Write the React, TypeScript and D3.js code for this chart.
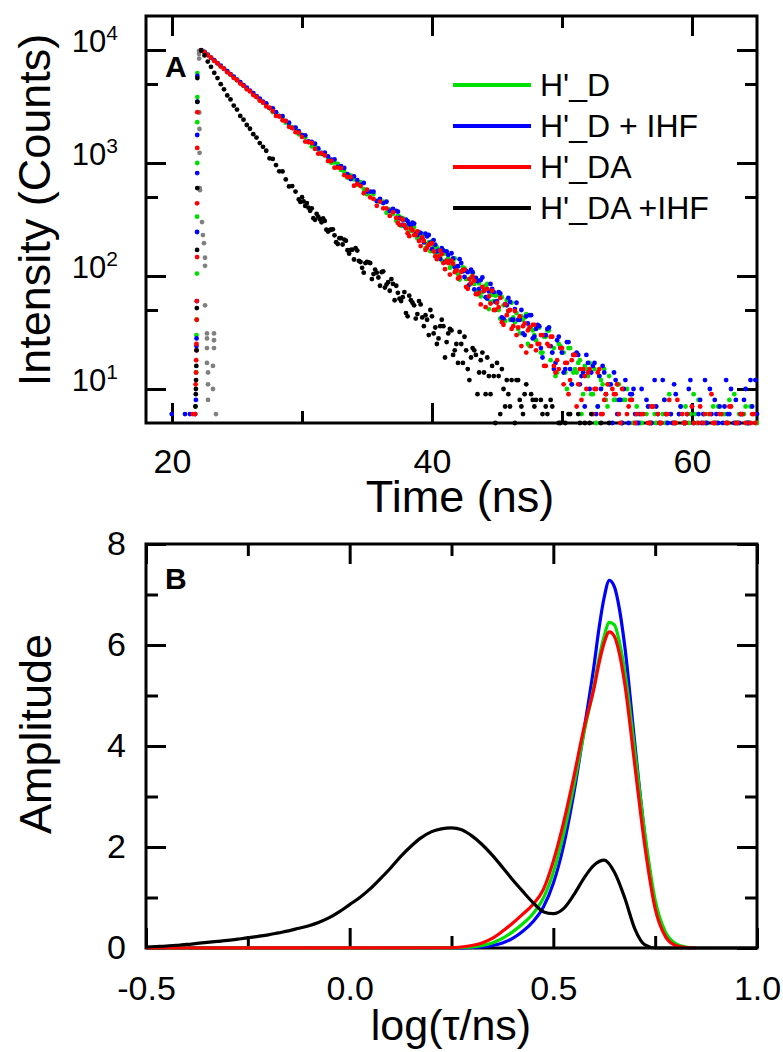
import React, { useRef, useEffect } from 'react';
import * as d3 from 'd3';

const FONT = "'Liberation Sans', Arial, Helvetica, sans-serif";

// ---------- panel A : decay curves (counts per channel) ----------
const channelStart = 22.25; // ns, first channel after the peak
const channelWidth = 0.25; // ns
// second, interleaved set of channels read off the noisy part of the curves
const tailStart = 37.375; // ns (H'_D, H'_D + IHF, H'_DA)
const tailStartDAIHF = 29.875; // ns (H'_DA + IHF)

// H'_D
const countsD = [
  9920, 9570, 9030, 8530, 8070, 7620, 7200, 6800, 6430, 6080,
  5740, 5430, 5120, 4850, 4580, 4330, 4090, 3860, 3650, 3450,
  3321, 3055, 2821, 2788, 2605, 2528, 2275, 2215, 2062, 2040,
  1793, 1773, 1687, 1527, 1401, 1427, 1322, 1201, 1217, 1110,
  1007, 1012, 982, 869, 836, 742, 775, 715, 642, 678,
  588, 529, 549, 531, 461, 452, 456, 363, 388, 355,
  309, 335, 325, 281, 251, 283, 245, 218, 229, 176,
  198, 202, 160, 162, 137, 158, 144, 123, 143, 104,
  110, 117, 81, 97, 85, 92, 66, 80, 85, 59,
  60, 68, 42, 55, 61, 41, 43, 47, 31, 41,
  46, 24, 33, 27, 35, 21, 29, 33, 21, 13,
  25, 21, 14, 23, 11, 15, 17, 6, 16, 13,
  9, 15, 7, 12, 15, 7, 4, 8, 11, 4,
  8, 10, 2, 5, 7, 5, 3, 6, 4, 7,
  5, 2, 6, 5, 9, 4, 5, 6, 3, 7,
  5, 4, 6, 8, 3, 5, 6, 4, 5, 7,
  2, 6, 5, 4, 9, 5, 3, 6, 5, 7,
  4, 5,
];
const countsD2 = [
  339, 278, 314, 277, 250, 271, 215, 234, 235, 191,
  166, 180, 180, 146, 169, 138, 118, 134, 122, 93,
  119, 94, 94, 106, 74, 86, 72, 82, 51, 68,
  67, 50, 65, 40, 49, 58, 39, 34, 44, 43,
  25, 34, 30, 36, 21, 29, 33, 18, 23, 14,
  24, 21, 10, 23, 14, 14, 18, 9, 15, 17,
  9, 5, 13, 11, 8, 13, 4, 8, 11, 5,
  8, 3, 8, 4, 6, 5, 3, 7, 5, 6,
  2, 5, 8, 4, 6, 5, 3, 7, 5, 4,
  6, 9, 5, 3, 6, 5, 4, 7, 5, 2,
  6, 5, 8, 4, 5, 6, 3, 7, 5, 4,
  6,
];

// H'_D + IHF
const countsDIHF = [
  9950, 9600, 9080, 8540, 8120, 7640, 7260, 6830, 6490, 6110,
  5810, 5460, 5200, 4890, 4650, 4370, 4160, 3900, 3720, 3490,
  3361, 3061, 3045, 2812, 2604, 2603, 2357, 2272, 2044, 2059,
  1910, 1765, 1758, 1552, 1537, 1484, 1345, 1226, 1238, 1145,
  1073, 1076, 926, 938, 903, 797, 722, 760, 704, 641,
  665, 559, 559, 557, 460, 482, 442, 454, 376, 392,
  377, 326, 285, 315, 288, 296, 235, 242, 216, 237,
  231, 173, 189, 168, 176, 133, 154, 159, 119, 122,
  130, 98, 108, 114, 76, 90, 92, 74, 63, 85,
  72, 60, 70, 42, 55, 59, 41, 58, 41, 31,
  44, 45, 28, 34, 36, 19, 30, 35, 21, 17,
  29, 21, 15, 26, 11, 20, 20, 13, 7, 17,
  14, 17, 7, 10, 14, 4, 11, 14, 6, 8,
  10, 3, 9, 10, 5, 6, 4, 8, 5, 3,
  7, 5, 12, 6, 4, 5, 9, 6, 3, 5,
  10, 7, 4, 6, 5, 12, 3, 6, 8, 5,
  4, 7, 6, 10, 5, 3, 6, 8, 5, 12,
  4, 6,
];
const countsDIHF2 = [
  371, 322, 278, 306, 279, 291, 230, 241, 199, 224,
  197, 208, 165, 142, 167, 165, 135, 143, 113, 141,
  110, 111, 84, 108, 96, 77, 97, 65, 73, 77,
  59, 72, 43, 56, 64, 41, 51, 41, 50, 30,
  38, 45, 29, 37, 23, 30, 34, 24, 15, 27,
  23, 14, 26, 15, 20, 21, 11, 14, 20, 10,
  16, 6, 13, 16, 9, 11, 5, 12, 8, 5,
  12, 5, 9, 6, 5, 10, 4, 7, 5, 12,
  6, 3, 8, 5, 6, 11, 4, 7, 5, 6,
  12, 5, 3, 8, 6, 5, 10, 4, 6, 7,
  5, 12, 6, 4, 8, 5, 6, 10, 5, 7,
  12,
];

// H'_DA
const countsDA = [
  9900, 9580, 8990, 8560, 8010, 7620, 7130, 6800, 6350, 6060,
  5660, 5400, 5050, 4820, 4490, 4300, 4000, 3830, 3560, 3420,
  3166, 3086, 2871, 2612, 2585, 2390, 2346, 2089, 2033, 1875,
  1859, 1700, 1548, 1537, 1498, 1332, 1209, 1221, 1167, 1041,
  1042, 909, 911, 901, 781, 754, 751, 629, 653, 625,
  540, 581, 496, 481, 418, 456, 397, 396, 340, 367,
  327, 283, 314, 264, 225, 254, 230, 204, 220, 170,
  188, 195, 149, 149, 156, 115, 130, 137, 108, 95,
  109, 114, 77, 86, 91, 69, 56, 74, 77, 57,
  50, 58, 64, 37, 45, 50, 36, 30, 44, 36,
  21, 35, 37, 22, 25, 30, 16, 24, 29, 14,
  15, 23, 17, 9, 18, 20, 11, 8, 13, 14,
  4, 10, 14, 6, 8, 11, 3, 9, 11, 5,
  3, 6, 8, 1, 6, 4, 6, 3, 5, 7,
  2, 5, 4, 6, 8, 3, 5, 4, 6, 5,
  2, 7, 4, 5, 3, 6, 4, 9, 5, 3,
  6, 4, 5, 7, 3, 5, 6, 4, 2, 5,
  6, 3,
];
const countsDA2 = [
  295, 321, 282, 239, 264, 230, 248, 184, 204, 178,
  192, 165, 141, 168, 130, 136, 103, 128, 112, 98,
  113, 80, 94, 99, 69, 71, 80, 53, 66, 74,
  50, 53, 39, 56, 49, 34, 49, 35, 24, 38,
  33, 24, 37, 25, 30, 16, 25, 29, 16, 18,
  23, 11, 17, 12, 20, 7, 15, 15, 10, 15,
  6, 10, 15, 6, 9, 4, 10, 9, 6, 10,
  3, 7, 8, 5, 3, 6, 4, 5, 7, 2,
  6, 5, 4, 6, 3, 5, 8, 4, 5, 6,
  2, 5, 4, 7, 5, 3, 6, 5, 4, 6,
  3, 5, 7, 4, 5, 2, 6, 5, 4, 6,
  5,
];

// H'_DA + IHF
const countsDAIHF = [
  9900, 8950, 7900, 7100, 6280, 5650, 4990, 4490, 3960, 3650,
  3220, 2970, 2610, 2420, 2170, 2010, 1800, 1680, 1500, 1390,
  1284, 1101, 1086, 958, 844, 842, 716, 620, 625, 559,
  476, 498, 417, 402, 397, 314, 335, 299, 307, 247,
  258, 229, 192, 216, 210, 169, 170, 140, 168, 133,
  107, 133, 130, 104, 107, 82, 110, 84, 74, 85,
  82, 63, 65, 47, 67, 58, 42, 60, 43, 45,
  30, 44, 35, 28, 41, 19, 31, 33, 22, 17,
  25, 29, 15, 19, 22, 9, 18, 14, 19, 9,
  13, 17, 6, 10, 12, 7, 4, 12, 8, 6,
  11, 3, 8, 8, 1, 6, 7, 3, 7, 1,
  5, 3, 5, 6, 4, 2, 6, 3, 5, 4,
  6, 2, 3, 5, 4, 2, 3, 1,
];
const countsDAIHF2 = [
  452, 457, 442, 377, 325, 355, 318, 324, 257, 254,
  259, 199, 216, 190, 205, 158, 171, 176, 136, 118,
  130, 132, 94, 114, 97, 108, 79, 88, 94, 61,
  71, 60, 72, 44, 61, 55, 46, 56, 36, 41,
  50, 31, 25, 36, 36, 26, 34, 20, 25, 32,
  17, 22, 12, 23, 20, 14, 21, 9, 13, 16,
  5, 13, 15, 7, 9, 12, 5, 12, 7, 9,
  3, 9, 7, 4, 8, 2, 6, 8, 2, 4,
  5, 2, 3, 6, 1, 4, 5, 2, 3, 5,
  1, 2, 4, 3, 1, 5, 2,
];

// points on the rising edge, [time (ns), counts]
const riseD = [[21.95, 6250], [21.95, 3830], [21.94, 2300], [21.94, 1000], [21.93, 335], [21.92, 105], [21.9, 41], [21.88, 30], [21.86, 14], [21.82, 7]];
const riseDIHF = [[21.95, 5900], [21.95, 3500], [21.94, 1770], [21.94, 815], [21.93, 245], [21.91, 60], [21.89, 28], [21.88, 24], [21.84, 8], [21.78, 6], [21.38, 6], [21.0, 6], [19.98, 6]];
const riseDA = [[21.95, 2820], [21.94, 1360], [21.93, 440], [21.93, 147], [21.91, 60], [21.9, 41], [21.88, 25], [21.88, 22], [21.86, 18], [21.85, 14], [21.82, 11], [21.78, 6], [21.6, 6]];
const riseDAIHF = [[21.95, 5650], [21.95, 3470], [21.94, 600], [21.93, 170], [21.91, 52], [21.89, 22], [21.87, 16], [21.85, 12], [21.84, 10], [21.83, 9], [21.8, 7]];

// instrument response (grey)
const irf = [
  [22.08, 9800], [22.08, 9200], [22.09, 8400], [22.1, 2800], [22.11, 2000], [22.12, 1230],
  [22.13, 600], [22.15, 575], [22.31, 300], [22.38, 230], [22.46, 195], [22.54, 145],
  [22.54, 123], [22.54, 55], [22.69, 31], [23.23, 31], [22.69, 28], [23.23, 27],
  [22.69, 23], [23.23, 23], [22.69, 17], [23.15, 16], [22.77, 14], [23.15, 10],
  [22.77, 11], [22.77, 8], [23.38, 6],
];

const seriesNames = ["H'_D", "H'_D + IHF", "H'_DA", "H'_DA +IHF"];
const seriesColors = ['#00e000', '#0000ff', '#ff0000', '#000000'];

const timeTicks = [20, 40, 60];
const timeMinorTicks = [30, 50];
const countTicks = [10, 100, 1000, 10000];
const countMinorTicks = [50, 500, 5000];

// ---------- panel B : lifetime distributions ----------
const logTauGrid = [
  -0.5, -0.475, -0.45, -0.425, -0.4, -0.375, -0.35, -0.325, -0.3, -0.275,
  -0.25, -0.225, -0.2, -0.175, -0.15, -0.125, -0.1, -0.075, -0.05, -0.025,
  0, 0.025, 0.05, 0.075, 0.1, 0.125, 0.15, 0.175, 0.2, 0.225,
  0.25, 0.275, 0.3, 0.325, 0.35, 0.375, 0.4, 0.425, 0.45, 0.475,
  0.5, 0.525, 0.55, 0.575, 0.6, 0.625, 0.65, 0.675, 0.7, 0.725,
  0.75, 0.775, 0.8, 0.825, 0.85, 0.875, 0.9, 0.925, 0.95, 0.975, 1.0,
];
const ampDAIHF = [
  0.02, 0.03, 0.04, 0.055, 0.07, 0.09, 0.11, 0.13, 0.15, 0.175,
  0.2, 0.23, 0.26, 0.3, 0.34, 0.39, 0.44, 0.51, 0.6, 0.72,
  0.86, 1.0, 1.17, 1.37, 1.58, 1.81, 2.01, 2.18, 2.3, 2.36,
  2.38, 2.34, 2.22, 2.05, 1.84, 1.6, 1.35, 1.12, 0.9, 0.72,
  0.68, 0.78, 1.05, 1.38, 1.64, 1.74, 1.5, 1.0, 0.38, 0.06,
  0, 0, 0, 0, 0, 0, 0, 0, 0, 0, 0,
];

const logTauPeak = [
  -0.5, 0.25, 0.275, 0.3, 0.325, 0.35, 0.375, 0.4, 0.425, 0.45,
  0.475, 0.5, 0.525, 0.55, 0.575, 0.6, 0.6125, 0.625, 0.6375, 0.65,
  0.6625, 0.675, 0.7, 0.725, 0.75, 0.775, 0.8, 0.825, 0.85,
];
const ampD = [
  0, 0, 0.01, 0.02, 0.05, 0.1, 0.19, 0.32, 0.48, 0.68,
  0.98, 1.5, 2.25, 3.2, 4.25, 5.2, 5.75, 6.18, 6.45, 6.4,
  6.05, 5.5, 3.9, 2.25, 0.95, 0.32, 0.09, 0.02, 0,
];
const ampDIHF = [
  0, 0, 0, 0.01, 0.02, 0.05, 0.1, 0.19, 0.33, 0.52,
  0.8, 1.28, 2.02, 3.05, 4.3, 5.6, 6.35, 6.95, 7.28, 7.15,
  6.7, 6.0, 4.05, 2.2, 0.85, 0.26, 0.06, 0.01, 0,
];
const ampDA = [
  0, 0.005, 0.02, 0.05, 0.1, 0.19, 0.33, 0.49, 0.67, 0.86,
  1.15, 1.72, 2.48, 3.38, 4.35, 5.15, 5.65, 6.05, 6.26, 6.17,
  5.82, 5.25, 3.62, 2.0, 0.78, 0.23, 0.05, 0.01, 0,
];

const logTauTicks = [-0.5, 0, 0.5, 1.0];
const logTauMinorTicks = [-0.25, 0.25, 0.75];
const ampTicks = [0, 2, 4, 6, 8];
const ampMinorTicks = [1, 3, 5, 7];

function styleAxis(g) {
  g.select('.domain').remove();
  g.selectAll('line').attr('stroke', '#000').attr('stroke-width', 3);
  g.attr('font-family', FONT);
  g.selectAll('text').attr('fill', '#000');
  return g;
}

function App() {
  const svgRef = useRef(null);

  useEffect(() => {
    const svg = d3.select(svgRef.current);
    svg.selectAll('*').remove();

    // ===== panel A =====
    const x = d3.scaleLinear().domain([18, 65]).range([146, 757]);
    const y = d3.scaleLog().domain([5, 20000]).range([423, 16]);
    const gA = svg.append('g');

    gA.append('rect')
      .attr('x', 146).attr('y', 16).attr('width', 611).attr('height', 407)
      .attr('fill', 'none').attr('stroke', '#000').attr('stroke-width', 3);

    const bottomA = gA.append('g').attr('transform', 'translate(0,423)')
      .call(d3.axisBottom(x).tickValues(timeTicks).tickSize(-20).tickPadding(26).tickFormat(d3.format('d')));
    styleAxis(bottomA).attr('font-size', 34);
    styleAxis(gA.append('g').attr('transform', 'translate(0,423)')
      .call(d3.axisBottom(x).tickValues(timeMinorTicks).tickSize(-12).tickFormat(() => '')));
    styleAxis(gA.append('g').attr('transform', 'translate(0,16)')
      .call(d3.axisTop(x).tickValues(timeTicks).tickSize(-20).tickFormat(() => '')));
    styleAxis(gA.append('g').attr('transform', 'translate(0,16)')
      .call(d3.axisTop(x).tickValues(timeMinorTicks).tickSize(-12).tickFormat(() => '')));

    const leftA = gA.append('g').attr('transform', 'translate(146,0)')
      .call(d3.axisLeft(y).tickValues(countTicks).tickSize(-20).tickPadding(28).tickFormat(() => ''));
    styleAxis(leftA).attr('font-size', 31);
    leftA.selectAll('.tick text').attr('dy', '0.05em').each(function (d) {
      const t = d3.select(this);
      t.append('tspan').text('10');
      t.append('tspan').attr('dy', -12).attr('font-size', 21).text(String(Math.round(Math.log10(d))));
    });
    styleAxis(gA.append('g').attr('transform', 'translate(146,0)')
      .call(d3.axisLeft(y).tickValues(countMinorTicks).tickSize(-12).tickFormat(() => '')));
    styleAxis(gA.append('g').attr('transform', 'translate(757,0)')
      .call(d3.axisRight(y).tickValues(countTicks).tickSize(-20).tickFormat(() => '')));
    styleAxis(gA.append('g').attr('transform', 'translate(757,0)')
      .call(d3.axisRight(y).tickValues(countMinorTicks).tickSize(-12).tickFormat(() => '')));

    const toPoints = (counts, start) => counts.map((c, i) => [start + i * channelWidth, c]);
    const dotLayers = [
      { pts: irf, color: '#808080' },
      { pts: riseD.concat(toPoints(countsD, channelStart), toPoints(countsD2, tailStart)), color: seriesColors[0] },
      { pts: riseDIHF.concat(toPoints(countsDIHF, channelStart), toPoints(countsDIHF2, tailStart)), color: seriesColors[1] },
      { pts: riseDA.concat(toPoints(countsDA, channelStart), toPoints(countsDA2, tailStart)), color: seriesColors[2] },
      { pts: riseDAIHF.concat(toPoints(countsDAIHF, channelStart), toPoints(countsDAIHF2, tailStartDAIHF)), color: seriesColors[3] },
    ];
    dotLayers.forEach((layer) => {
      gA.append('g')
        .selectAll('circle')
        .data(layer.pts.filter((p) => p[1] >= 5 && p[0] <= 65))
        .join('circle')
        .attr('cx', (d) => x(d[0]))
        .attr('cy', (d) => y(d[1]))
        .attr('r', 2.4)
        .attr('fill', layer.color);
    });

    gA.append('text').attr('x', 165).attr('y', 77)
      .attr('font-family', FONT).attr('font-weight', 'bold').attr('font-size', 30).text('A');

    const legend = gA.append('g').attr('font-family', FONT).attr('font-size', 32);
    seriesNames.forEach((name, i) => {
      const ly = 85 + i * 41;
      legend.append('line').attr('x1', 453).attr('x2', 531).attr('y1', ly).attr('y2', ly)
        .attr('stroke', seriesColors[i]).attr('stroke-width', 4);
      legend.append('text').attr('x', 540).attr('y', ly + 11).text(name);
    });

    gA.append('text').attr('x', 460).attr('y', 512).attr('text-anchor', 'middle')
      .attr('font-family', FONT).attr('font-size', 45).text('Time (ns)');
    gA.append('text').attr('transform', 'translate(50,210) rotate(-90)').attr('text-anchor', 'middle')
      .attr('font-family', FONT).attr('font-size', 45).text('Intensity (Counts)');

    // ===== panel B =====
    const xb = d3.scaleLinear().domain([-0.5, 1.0]).range([146, 757]);
    const yb = d3.scaleLinear().domain([0, 8]).range([948, 544]);
    const gB = svg.append('g');

    gB.append('rect')
      .attr('x', 146).attr('y', 544).attr('width', 611).attr('height', 404)
      .attr('fill', 'none').attr('stroke', '#000').attr('stroke-width', 3);

    const bottomB = gB.append('g').attr('transform', 'translate(0,948)')
      .call(d3.axisBottom(xb).tickValues(logTauTicks).tickSize(-20).tickPadding(28).tickFormat((d) => d.toFixed(1)));
    styleAxis(bottomB).attr('font-size', 34);
    styleAxis(gB.append('g').attr('transform', 'translate(0,948)')
      .call(d3.axisBottom(xb).tickValues(logTauMinorTicks).tickSize(-12).tickFormat(() => '')));
    styleAxis(gB.append('g').attr('transform', 'translate(0,544)')
      .call(d3.axisTop(xb).tickValues(logTauTicks).tickSize(-20).tickFormat(() => '')));
    styleAxis(gB.append('g').attr('transform', 'translate(0,544)')
      .call(d3.axisTop(xb).tickValues(logTauMinorTicks).tickSize(-12).tickFormat(() => '')));

    const leftB = gB.append('g').attr('transform', 'translate(146,0)')
      .call(d3.axisLeft(yb).tickValues(ampTicks).tickSize(-20).tickPadding(20).tickFormat(d3.format('d')));
    styleAxis(leftB).attr('font-size', 34);
    styleAxis(gB.append('g').attr('transform', 'translate(146,0)')
      .call(d3.axisLeft(yb).tickValues(ampMinorTicks).tickSize(-12).tickFormat(() => '')));
    styleAxis(gB.append('g').attr('transform', 'translate(757,0)')
      .call(d3.axisRight(yb).tickValues(ampTicks).tickSize(-20).tickFormat(() => '')));
    styleAxis(gB.append('g').attr('transform', 'translate(757,0)')
      .call(d3.axisRight(yb).tickValues(ampMinorTicks).tickSize(-12).tickFormat(() => '')));

    const lineGen = d3.line()
      .x((d) => xb(d[0]))
      .y((d) => yb(d[1]))
      .curve(d3.curveMonotoneX);
    const curves = [
      { xs: logTauPeak, ys: ampDIHF, color: seriesColors[1] },
      { xs: logTauPeak, ys: ampD, color: seriesColors[0] },
      { xs: logTauPeak, ys: ampDA, color: seriesColors[2] },
      { xs: logTauGrid, ys: ampDAIHF, color: seriesColors[3] },
    ];
    gB.selectAll('.dist')
      .data(curves)
      .join('path')
      .attr('class', 'dist')
      .attr('d', (c) => lineGen(c.xs.map((v, i) => [v, c.ys[i]])))
      .attr('fill', 'none')
      .attr('stroke', (c) => c.color)
      .attr('stroke-width', 3.2)
      .attr('stroke-linejoin', 'round');

    gB.append('text').attr('x', 165).attr('y', 589)
      .attr('font-family', FONT).attr('font-weight', 'bold').attr('font-size', 30).text('B');

    gB.append('text').attr('x', 451).attr('y', 1040).attr('text-anchor', 'middle')
      .attr('font-family', FONT).attr('font-size', 43).text('log(\u03c4/ns)');
    gB.append('text').attr('transform', 'translate(51,734) rotate(-90)').attr('text-anchor', 'middle')
      .attr('font-family', FONT).attr('font-size', 45).text('Amplitude');
  }, []);

  return (
    <svg
      ref={svgRef}
      width={783}
      height={1052}
      style={{ position: 'absolute', left: 0, top: 0, background: '#fff' }}
    />
  );
}

export default App;
